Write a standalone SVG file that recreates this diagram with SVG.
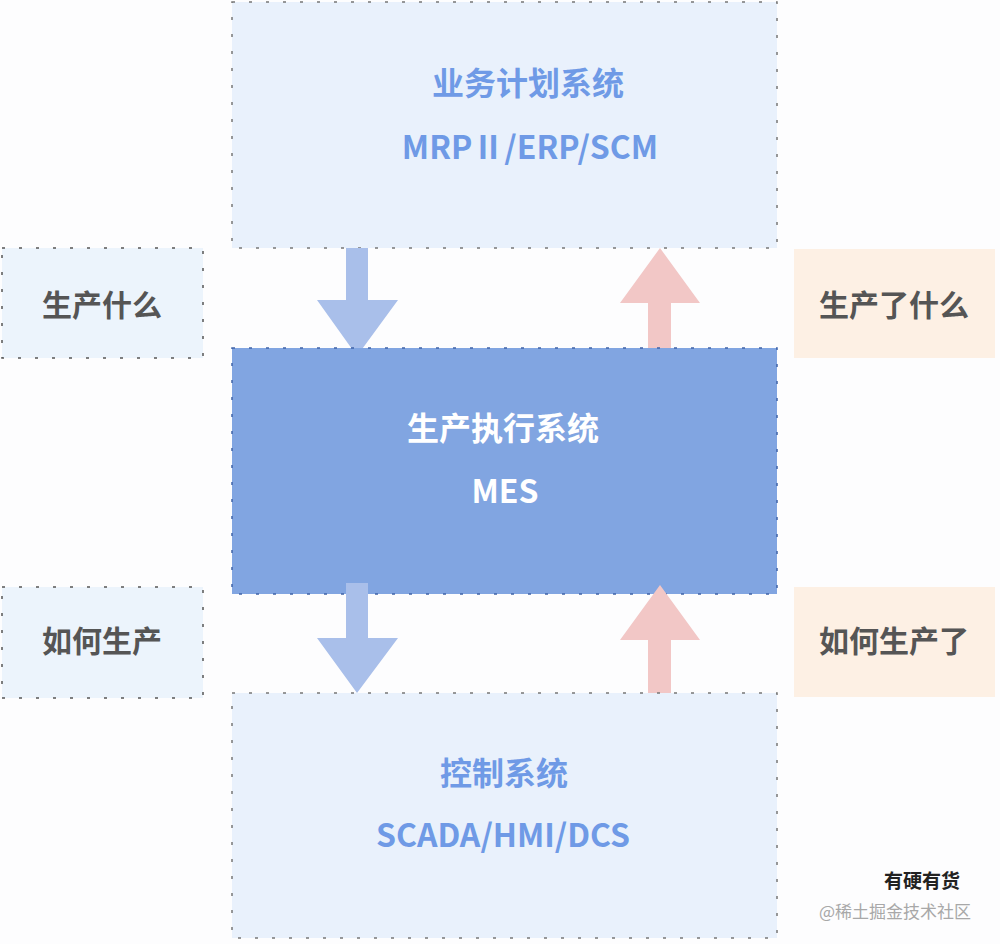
<svg xmlns="http://www.w3.org/2000/svg" width="1000" height="944" viewBox="0 0 1000 944">
<style>
.sys{fill:#e9f1fc;stroke:#777;stroke-width:1.5;stroke-dasharray:3 14}
.lbl{fill:#ecf4fc;stroke:#555;stroke-width:1.5;stroke-dasharray:3 14}
.res{fill:#fdf0e4}
.mes{fill:#81a5e1;stroke:#3f63a8;stroke-width:1.5;stroke-dasharray:3 14}
text{font-family:"Noto Sans CJK SC","Microsoft YaHei",sans-serif;font-weight:bold;text-anchor:middle}
.t-sys{fill:#6f9ae6;font-size:32px}
.t-mes{fill:#ffffff;font-size:32px}
.t-lbl{fill:#555555;font-size:30px}
.down{fill:#a9bfea}
.up{fill:#f2c7c6}
</style>
<rect width="1000" height="944" fill="#fdfdfe"/>
<g id="erp">
<rect class="sys" x="232" y="2" width="545" height="246"/>
<text class="t-sys" x="528" y="95">业务计划系统</text>
<text class="t-sys" x="530" y="159" font-size="33">MRPⅡ/ERP/SCM</text>
</g>
<g id="connectors">
<polygon class="down" points="346,248 368,248 368,300 398,300 357,356 317,300 346,300"/>
<polygon class="up" points="660,248 700,303 671,303 671,358 648,358 648,303 620,303"/>
</g>
<g id="what">
<rect class="lbl" x="2" y="248" width="201" height="110"/>
<text class="t-lbl" x="102" y="316">生产什么</text>
</g>
<g id="what-done">
<rect class="res" x="794" y="249" width="201" height="109"/>
<text class="t-lbl" x="894" y="316">生产了什么</text>
</g>
<g id="mes">
<rect class="mes" x="232" y="348" width="545" height="246"/>
<text class="t-mes" x="503" y="440">生产执行系统</text>
<text class="t-mes" x="505" y="503">MES</text>
</g>
<g id="connectors2">
<polygon class="down" points="346,583 368,583 368,638 398,638 357,693 317,638 346,638"/>
<polygon class="up" points="660,585 700,640 671,640 671,694 648,694 648,640 620,640"/>
</g>
<g id="how">
<rect class="lbl" x="2" y="587" width="201" height="111"/>
<text class="t-lbl" x="102" y="652">如何生产</text>
</g>
<g id="how-done">
<rect class="res" x="794" y="587" width="201" height="110"/>
<text class="t-lbl" x="894" y="652">如何生产了</text>
</g>
<g id="control">
<rect class="sys" x="232" y="693" width="545" height="245"/>
<text class="t-sys" x="504" y="785">控制系统</text>
<text class="t-sys" x="503" y="847" font-size="33">SCADA/HMI/DCS</text>
</g>
<g id="watermark">
<text x="895" y="918" style="font-size:17px;font-weight:normal;fill:#a8a8a8">@稀土掘金技术社区</text>
<text x="922" y="888" style="font-size:19px;fill:#222">有硬有货</text>
</g>
</svg>
